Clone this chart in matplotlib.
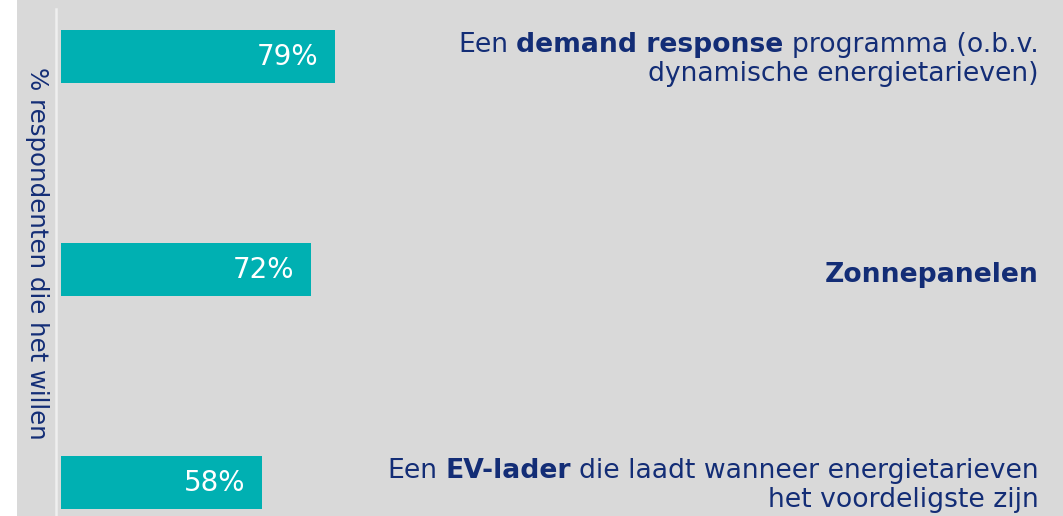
import matplotlib
matplotlib.use("Agg")
import matplotlib.pyplot as plt
from matplotlib.patches import Rectangle
from matplotlib.transforms import offset_copy

# data
values = [79, 72, 58]  # top to bottom
bar_labels = ["79%", "72%", "58%"]
# each label: list of lines, each line a list of (text, bold)
item_labels = [
    [[("Een", False), ("demand response", True), ("programma (o.b.v.", False)],
     [("dynamische energietarieven)", False)]],
    [[("Zonnepanelen", True)]],
    [[("Een", False), ("EV-lader", True), ("die laadt wanneer energietarieven", False)],
     [("het voordeligste zijn", False)]],
]
ylabel = "% respondenten die het willen"

bg = "#d9d9d9"
teal = "#00b0b2"
navy = "#132d76"
W, H = 1063, 516

plt.rcParams["font.family"] = "DejaVu Sans"
fig = plt.figure(figsize=(W / 100, H / 100), dpi=100, facecolor=bg)
# white strip on the far left
fig.patches.append(Rectangle((0, 0), 17 / W, 1, transform=fig.transFigure,
                             facecolor="white", edgecolor="none", zorder=0))

ax = fig.add_axes([56 / W, 0, 1 - 56 / W, 507 / H])
ax.set_facecolor(bg)

ypos = [2, 1, 0]
ax.barh(ypos, values, height=0.249, color=teal, left=0)
ax.set_xlim(-1.44, 288.8)
ax.set_ylim(-0.157, 2.223)

for s in ["top", "right", "bottom"]:
    ax.spines[s].set_visible(False)
ax.spines["left"].set_color("#efefef")
ax.spines["left"].set_linewidth(1.8)
ax.set_xticks([])
ax.set_yticks([])

# values inside bars
for y, v, lab in zip(ypos, values, bar_labels):
    ax.annotate(lab, (v, y), xytext=(-12.2, 0), textcoords="offset points",
                ha="right", va="center", color="white", fontsize=20)

# y label
fig.text(37 / W, 1 - 253 / H, ylabel, rotation=270, ha="center", va="center",
         color=navy, fontsize=17.6)

# right-hand descriptions with mixed bold
fs = 19.2
renderer = fig.canvas.get_renderer()


def text_width(s, bold):
    t = fig.text(0, 0, s, fontsize=fs, fontweight="bold" if bold else "normal")
    w = t.get_window_extent(renderer).width
    t.remove()
    return w


space = text_width("a a", False) - text_width("aa", False)
base = ax.get_yaxis_transform()
x_right = (1039 - 56) / (W - 56)

for y, lines in zip(ypos, item_labels):
    if len(lines) == 1:
        offs = [-12.5]
    else:
        offs = [5, -24]
    for line, dy in zip(lines, offs):
        cum = 0
        for k, (txt, bold) in enumerate(reversed(line)):
            tr = offset_copy(base, fig=fig, x=-cum, y=dy, units="dots")
            t = ax.text(x_right, y, txt, transform=tr, ha="right", va="baseline",
                        fontsize=fs, color=navy,
                        fontweight="bold" if bold else "normal")
            cum += t.get_window_extent(renderer).width + space

fig.savefig("out.png", dpi=100, facecolor=bg)
